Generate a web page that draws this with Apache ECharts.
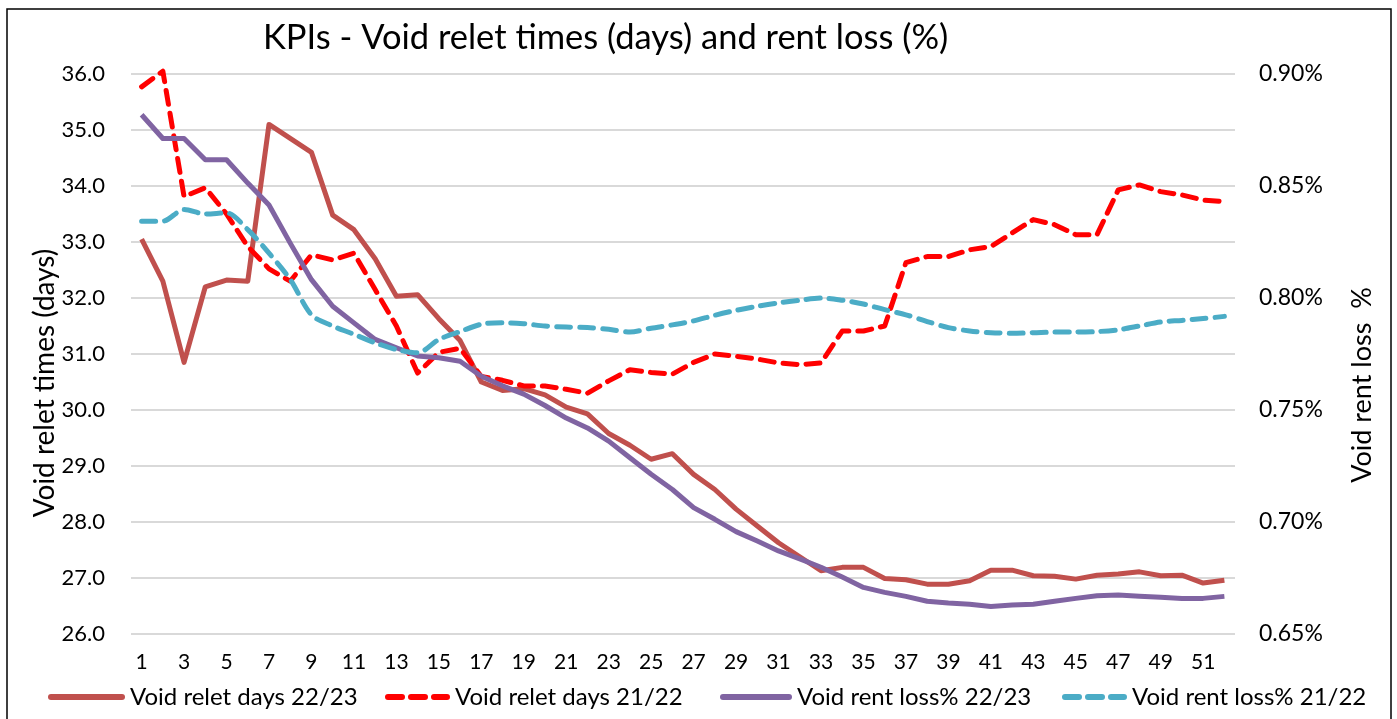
<!DOCTYPE html>
<html>
<head>
<meta charset="utf-8">
<title>KPIs - Void relet times</title>
<script src="https://cdn.jsdelivr.net/npm/echarts@6/dist/echarts.min.js"></script>
<style>
  html, body { margin: 0; padding: 0; background: #fff; }
  #chart { width: 1397px; height: 719px; }
</style>
</head>
<body>
<div id="chart"></div>
<script>
// week numbers 1..52
var weeks = [];
for (var w = 1; w <= 52; w++) weeks.push(String(w));

// left axis - days
var reletDays2223 = [33.05, 32.3, 30.85, 32.2, 32.32, 32.3, 35.1, 34.85, 34.6, 33.48,
  33.22, 32.7, 32.03, 32.06, 31.63, 31.24, 30.5, 30.35, 30.38, 30.27,
  30.05, 29.93, 29.58, 29.37, 29.12, 29.22, 28.85, 28.58, 28.23, 27.93,
  27.63, 27.38, 27.13, 27.19, 27.19, 26.99, 26.97, 26.89, 26.89, 26.95,
  27.14, 27.14, 27.04, 27.03, 26.98, 27.05, 27.07, 27.11, 27.04, 27.05,
  26.91, 26.96];
var reletDays2122 = [35.77, 36.05, 33.81, 33.97, 33.5, 32.92, 32.52, 32.3, 32.77, 32.68,
  32.8, 32.15, 31.5, 30.66, 31.03, 31.1, 30.6, 30.53, 30.43, 30.43,
  30.37, 30.3, 30.52, 30.72, 30.67, 30.64, 30.85, 31.0, 30.96, 30.91,
  30.84, 30.81, 30.84, 31.41, 31.41, 31.5, 32.63, 32.74, 32.74, 32.86,
  32.92, 33.16, 33.4, 33.31, 33.13, 33.13, 33.93, 34.02, 33.9, 33.84,
  33.75, 33.72];

// right axis - rent loss %
var rentLoss2223 = [0.8818, 0.8712, 0.8712, 0.8617, 0.8617, 0.8513, 0.8415, 0.8245, 0.8082, 0.7963,
  0.7889, 0.7815, 0.7778, 0.7741, 0.7733, 0.7718, 0.7651, 0.7608, 0.7571, 0.752,
  0.7464, 0.742, 0.7361, 0.7287, 0.7213, 0.7145, 0.7064, 0.7012, 0.6957, 0.6915,
  0.6871, 0.6835, 0.6798, 0.6754, 0.6708, 0.6686, 0.6668, 0.6646, 0.6638, 0.6633,
  0.6623, 0.6629, 0.6633, 0.6646, 0.6659, 0.6671, 0.6674, 0.6668, 0.6664, 0.6659,
  0.6659, 0.6668];
var rentLoss2122 = [0.8343, 0.8343, 0.8395, 0.8375, 0.838, 0.8305, 0.82, 0.8083, 0.7925, 0.7875,
  0.7838, 0.78, 0.777, 0.7755, 0.7815, 0.785, 0.7883, 0.789, 0.7885, 0.7875,
  0.787, 0.7868, 0.786, 0.7848, 0.7865, 0.788, 0.7898, 0.7923, 0.7945, 0.7963,
  0.7978, 0.799, 0.8, 0.799, 0.7973, 0.7948, 0.7925, 0.7895, 0.7868, 0.7853,
  0.7845, 0.7843, 0.7845, 0.7848, 0.7848, 0.785, 0.7858, 0.7875, 0.7893, 0.79,
  0.7908, 0.7918];

var seriesNames = ["Void relet days 22/23", "Void relet days 21/22", "Void rent loss% 22/23", "Void rent loss% 21/22"];

var FONT = "Lato";
var DASH = [14, 9];

// one legend per series so each sits where the Excel legend put it
function legendAt(left, width, name) {
  return {
    left: left,
    top: 680,
    itemWidth: width,
    itemHeight: 8,
    itemGap: 6,
    data: [name],
    itemStyle: { opacity: 0 },
    lineStyle: { width: 6, cap: "round" },
    textStyle: { fontFamily: FONT, fontSize: 24, color: "#000", padding: [0, 0, 0, 3] }
  };
}

var chart = echarts.init(document.getElementById("chart"));

chart.setOption({
  animation: false,
  backgroundColor: "#fff",
  title: {
    text: "KPIs - Void relet times (days) and rent loss (%)",
    left: 258,
    top: 15,
    textStyle: { fontFamily: FONT, fontSize: 34.5, fontWeight: "normal", color: "#000" }
  },
  grid: { left: 131, right: 162, top: 74, bottom: 85 },
  legend: [
    legendAt(43, 71, seriesNames[0]),
    legendAt(380, 59, seriesNames[1]),
    legendAt(715, 66, seriesNames[2]),
    legendAt(1057, 59, seriesNames[3])
  ],
  graphic: [
    {
      type: "rect",
      shape: { x: 7, y: 9, width: 1384, height: 730 },
      style: { fill: null, stroke: "#000", lineWidth: 1.5 },
      silent: true
    },
    {
      type: "text",
      x: 45, y: 383, rotation: Math.PI / 2,
      style: { text: "Void relet times (days)", fontFamily: FONT, fontSize: 28, fill: "#000",
        textAlign: "center", textVerticalAlign: "middle" }
    },
    {
      type: "text",
      x: 1362, y: 385, rotation: Math.PI / 2,
      style: { text: "Void rent loss  %", fontFamily: FONT, fontSize: 27, fill: "#000",
        textAlign: "center", textVerticalAlign: "middle" }
    }
  ],
  xAxis: {
    type: "category",
    data: weeks,
    boundaryGap: true,
    axisLine: { show: false },
    axisTick: { show: false },
    axisLabel: { interval: 1, margin: 18, fontFamily: FONT, fontSize: 21, color: "#000" }
  },
  yAxis: [
    {
      type: "value",
      min: 26,
      max: 36,
      interval: 1,
      axisLine: { show: false },
      axisTick: { show: false },
      splitLine: { lineStyle: { color: "#d9d9d9", width: 2 } },
      axisLabel: {
        margin: 26, fontFamily: FONT, fontSize: 22, color: "#000",
        formatter: function (v) { return v.toFixed(1); }
      }
    },
    {
      type: "value",
      min: 0.65,
      max: 0.9,
      interval: 0.05,
      axisLine: { show: false },
      axisTick: { show: false },
      splitLine: { show: false },
      axisLabel: {
        margin: 24, fontFamily: FONT, fontSize: 23, color: "#000",
        formatter: function (v) { return v.toFixed(2) + "%"; }
      }
    }
  ],
  series: [
    {
      name: seriesNames[0],
      type: "line",
      yAxisIndex: 0,
      data: reletDays2223,
      symbol: "none",
      clip: false,
      itemStyle: { color: "#c0504d" },
      lineStyle: { color: "#c0504d", width: 5, join: "round" }
    },
    {
      name: seriesNames[1],
      type: "line",
      yAxisIndex: 0,
      data: reletDays2122,
      symbol: "none",
      clip: false,
      itemStyle: { color: "#ff0000" },
      lineStyle: { color: "#ff0000", width: 5, type: DASH, cap: "round", join: "round" }
    },
    {
      name: seriesNames[2],
      type: "line",
      yAxisIndex: 1,
      data: rentLoss2223,
      symbol: "none",
      clip: false,
      itemStyle: { color: "#8064a2" },
      lineStyle: { color: "#8064a2", width: 5, join: "round" }
    },
    {
      name: seriesNames[3],
      type: "line",
      yAxisIndex: 1,
      data: rentLoss2122,
      symbol: "none",
      smooth: 0.3,
      clip: false,
      itemStyle: { color: "#4bacc6" },
      lineStyle: { color: "#4bacc6", width: 5, type: DASH, cap: "round", join: "round" }
    }
  ]
});
</script>
</body>
</html>
